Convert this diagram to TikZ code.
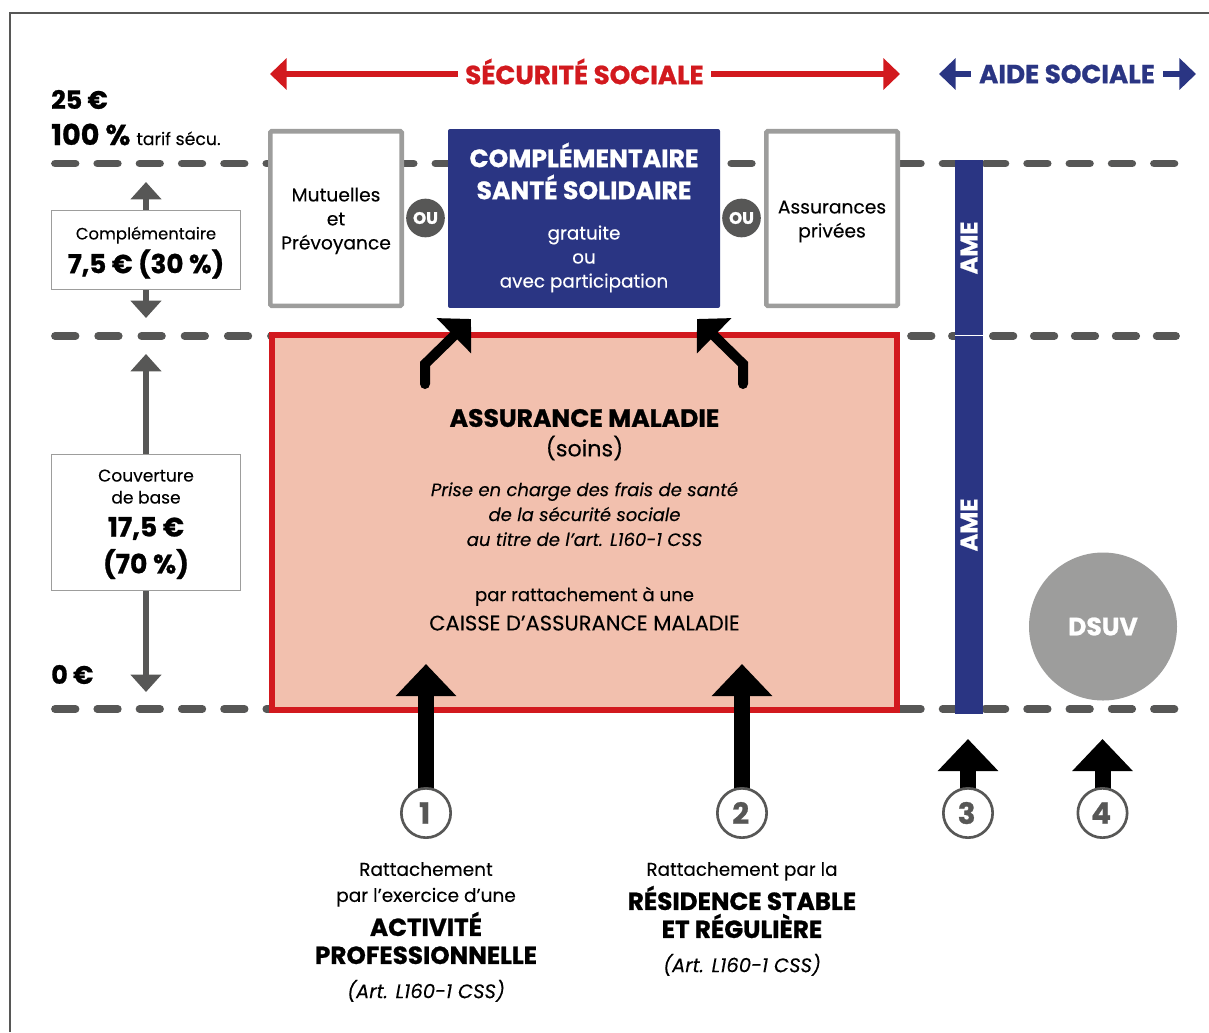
\documentclass[tikz,border=0pt]{standalone}
\usepackage{fontspec}
\setmainfont{Poppins}[FakeBold=0.15, BoldFeatures={FakeBold=0.9}]
\usetikzlibrary{arrows.meta}
\definecolor{bleu}{HTML}{2A3583}
\definecolor{rouge}{HTML}{D2191E}
\definecolor{saumon}{HTML}{F2C0AE}
\definecolor{grisf}{HTML}{575756}
\definecolor{grisc}{HTML}{9D9D9C}
\newcommand{\taille}[2]{\fontsize{#1}{#2}\selectfont}
\tikzset{
  niveau/.style={ grisf, line width=5.8pt, line cap=round, dash pattern=on 15.4pt off 16.3pt }
}
\tikzset{
  cadre/.style={ draw=grisc, fill=white, line width=3.4pt, rounded corners=1pt, minimum width=98.6pt, minimum height=130.9pt }
}
\tikzset{
  legende/.style={ draw=grisc, fill=white, line width=.8pt, minimum width=142pt, inner sep=0pt }
}
\tikzset{
  ou/.style={ circle, fill=grisf, text=white, minimum size=29pt, inner sep=0pt, font=\taille{12.5}{14}\bfseries }
}
\tikzset{
  numero/.style={ circle, draw=grisf, fill=white, line width=2pt, minimum size=37pt, inner sep=0pt, text=grisf, font=\taille{22}{24}\bfseries }
}
\tikzset{
  flechegris/.style={ grisf, line width=3.8pt, -{Triangle[length=13pt, width=22.5pt]} }
}
\tikzset{
  flechenoire/.style={ black, line width=12pt, -{Triangle[length=24pt, width=44pt]} }
}
\tikzset{
  flechecoude/.style={ black, line width=7.5pt, line cap=round, line join=miter, -{Triangle[length=18pt, width=36pt]} }
}
\tikzset{
  flecheentete/.style={ line width=4.2pt, -{Triangle[length=12.4pt, width=23pt]} }
}
\tikzset{
  texte/.style={ align=center, inner sep=0pt, font=\taille{13.8}{18}, text depth=0pt }
}
\tikzset{
  titre/.style={ align=center, inner sep=0pt, font=\taille{18.5}{21}\bfseries }
}
\tikzset{
  entete/.style={ inner sep=0pt, font=\taille{19.6}{22}\bfseries }
}
\begin{document}
\begin{tikzpicture}[x=.75pt, y=-.75pt]
      \useasboundingbox (0, 0) rectangle (1209, 1032);
      \coordinate (hg) at (10, 1032);
      \coordinate (hc) at (10, 13);
      \coordinate (hd) at (1209, 13);
      \draw[grisf, line width=1pt] (hg) -- (hc) -- (hd);

      % niveaux
      \coordinate (n1a) at (55, 163.5);
      \coordinate (n1b) at (1176, 163.5);
      \coordinate (n2a) at (55, 336);
      \coordinate (n2b) at (290, 336);
      \coordinate (n2c) at (911, 336);
      \coordinate (n2d) at (1176, 336);
      \coordinate (n3a) at (55, 709);
      \coordinate (n3b) at (1176, 709);
      \draw[niveau] (n1a) -- (n1b);
      \draw[niveau, dash pattern=on 15.4pt off 17pt] (n2a) -- (n2b);
      \draw[niveau, dash pattern=on 15.4pt off 15.3pt] (n2c) -- (n2d);
      \draw[niveau] (n3a) -- (n3b);

      % entete
      \node[entete, text=rouge] (secu) at (584.5, 71.5) {SÉCURITÉ SOCIALE};
      \node[entete, text=bleu] (aide) at (1067, 74) {AIDE SOCIALE};
      \coordinate (secug) at (270, 74);
      \coordinate (secud) at (900, 74);
      \coordinate (aideg) at (939, 74);
      \coordinate (aided) at (1196, 74);
      \coordinate (secua) at (458, 74);
      \coordinate (secub) at (711, 74);
      \coordinate (aidea) at (971, 74);
      \coordinate (aideb) at (1163, 74);
      \draw[flecheentete, rouge] (secua) -- (secug);
      \draw[flecheentete, rouge] (secub) -- (secud);
      \draw[flecheentete, bleu] (aidea) -- (aideg);
      \draw[flecheentete, bleu] (aideb) -- (aided);

      % echelle
      \node[anchor=west, inner sep=0pt, font=\taille{19}{24}\bfseries] (p25) at (51, 99.5) {25 €};
      \node[anchor=west, inner sep=0pt, font=\taille{21.5}{24}\bfseries] (p100) at (51, 134.5) {100 \% {\taille{13}{16}\mdseries tarif sécu.}};
      \node[anchor=west, inner sep=0pt, font=\taille{19}{24}\bfseries] (p0) at (51, 674.5) {0 €};

      \coordinate (t1) at (146, 182);
      \coordinate (t2) at (146, 318);
      \coordinate (t3) at (146, 354);
      \coordinate (t4) at (146, 692);
      \coordinate (s1) at (146, 250);
      \coordinate (s2) at (146, 522);
      \draw[flechegris] (s1) -- (t1);
      \draw[flechegris] (s1) -- (t2);
      \draw[flechegris] (s2) -- (t3);
      \draw[flechegris] (s2) -- (t4);
      \node[legende, minimum height=59pt] (compl) at (s1) {};
      \node[texte, font=\taille{12.3}{18}] (complt) at (146, 233) {Complémentaire};
      \node[titre, font=\taille{19.6}{24}\bfseries] (complv) at (146, 264) {7,5 € (30 \%)};
      \node[legende, minimum height=102pt] (base) at (146, 522.5) {};
      \node[texte, font=\taille{12.8}{16.5}] (baset) at (146, 486.5) {Couverture\\de base};
      \node[titre, font=\taille{20}{27.7}\bfseries] (basev) at (146, 548) {17,5 €\\(70 \%)};

      % colonnes
      \node[cadre] (mut) at (336, 218.5) {};
      \node[cadre] (ass) at (832, 218.5) {};
      \node[texte, font=\taille{14}{18}] (mutt) at (336, 218.5) {Mutuelles\\et\\Prévoyance};
      \node[texte, font=\taille{14}{18}] (asst) at (832, 219) {Assurances\\privées};
      \node[fill=bleu, rounded corners=1.5pt, minimum width=204pt, minimum height=134.2pt, inner sep=0pt] (css) at (584, 218.5) {};
      \node[titre, text=white, font=\taille{18.8}{24}\bfseries] (csst) at (584, 171) {COMPLÉMENTAIRE\\SANTÉ SOLIDAIRE};
      \node[texte, text=white] (cssb) at (584, 256.5) {gratuite\\ou\\avec participation};
      \node[ou] (ou1) at (425.5, 218) {OU};
      \node[ou] (ou2) at (741.5, 218) {OU};

      % assurance maladie
      \node[draw=rouge, fill=saumon, line width=4.2pt, minimum width=468.7pt, minimum height=281.5pt, inner sep=0pt] (am) at (584.7, 522.5) {};
      \node[titre, font=\taille{18.8}{22}\bfseries] (amt) at (584.5, 418) {ASSURANCE MALADIE};
      \node[inner sep=0pt, font=\taille{16.7}{20}] (ams) at (584.5, 448) {(soins)};
      \node[texte, font=\taille{13.5}{18.7}\itshape] (ampc) at (584.5, 514) {Prise en charge des frais de santé\\de la sécurité sociale\\au titre de l’art. L160-1 CSS};
      \node[texte, font=\taille{13.6}{21}] (amr) at (584.5, 594) {par rattachement à une};
      \node[texte, font=\taille{15.8}{21}] (amc) at (584.5, 623) {CAISSE D’ASSURANCE MALADIE};

      % AME
      \node[fill=bleu, minimum width=21pt, minimum height=415.5pt, inner sep=0pt] (ame) at (969, 437) {};
      \coordinate (ameg) at (955, 335.5);
      \coordinate (amed) at (983, 335.5);
      \draw[white, line width=1pt] (ameg) -- (amed);
      \node[rotate=90, text=white, inner sep=0pt, font=\taille{18}{20}\bfseries] (ame1) at (969, 248) {AME};
      \node[rotate=90, text=white, inner sep=0pt, font=\taille{18}{20}\bfseries] (ame2) at (969, 525) {AME};
      \node[circle, fill=grisc, text=white, minimum size=111pt, inner sep=0pt, font=\taille{18.8}{20}\bfseries] (dsuv) at (1103, 626.5) {\raisebox{-1.5pt}{DSUV}};

      % rattachements
      \coordinate (d1) at (426, 813);
      \coordinate (d2) at (742, 813);
      \coordinate (d3) at (968, 813);
      \coordinate (d4) at (1102.5, 813);
      \coordinate (f1) at (426, 664);
      \coordinate (f2) at (742, 664);
      \coordinate (f3) at (968, 739);
      \coordinate (f4) at (1102.5, 739);
      \draw[flechenoire] (d1) -- (f1);
      \draw[flechenoire] (d2) -- (f2);
      \draw[flechenoire] (d3) -- (f3);
      \draw[flechenoire] (d4) -- (f4);
      \node[numero] (r1) at (d1) {\kern-2pt 1};
      \node[numero] (r2) at (d2) {\kern-2pt 2};
      \node[numero] (r3) at (d3) {\kern-2pt 3};
      \node[numero] (r4) at (d4) {\kern-2pt 4};

      \coordinate (c1a) at (425, 384);
      \coordinate (c1b) at (425, 364);
      \coordinate (c1c) at (471, 319);
      \coordinate (c2a) at (743, 384);
      \coordinate (c2b) at (743, 364);
      \coordinate (c2c) at (697, 319);
      \draw[flechecoude] (c1a) -- (c1b) -- (c1c);
      \draw[flechecoude] (c2a) -- (c2b) -- (c2c);

      % textes du bas
      \node[texte, font=\taille{13.9}{19.5}] (b1a) at (426, 882) {Rattachement\\par l’exercice d’une};
      \node[titre] (b1b) at (426, 938) {ACTIVITÉ\\PROFESSIONNELLE};
      \node[texte, font=\taille{14.7}{18}\itshape] (b1c) at (426, 989) {(Art. L160-1 CSS)};
      \node[texte] (b2a) at (742, 869) {Rattachement par la};
      \node[titre] (b2b) at (742, 912) {RÉSIDENCE STABLE\\ET RÉGULIÈRE};
      \node[texte, font=\taille{14.7}{18}\itshape] (b2c) at (742, 963) {(Art. L160-1 CSS)};
    \end{tikzpicture}
\end{document}
